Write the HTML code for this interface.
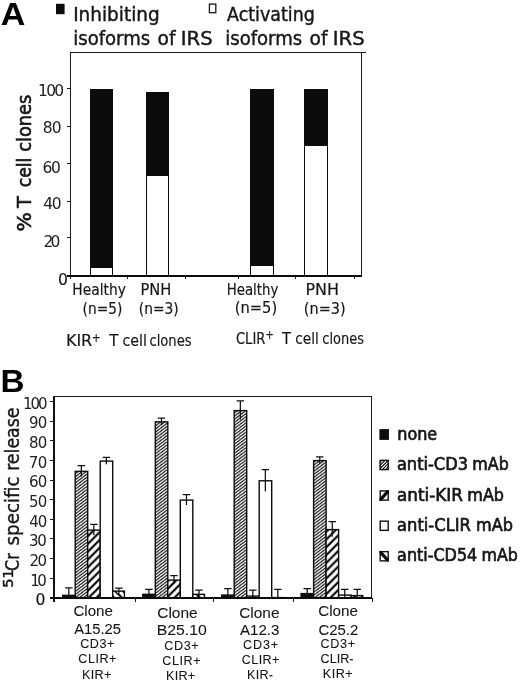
<!DOCTYPE html>
<html lang="en">
<head>
<meta charset="utf-8">
<title>Figure: IRS isoforms and 51Cr specific release</title>
<style>
  html, body { margin: 0; padding: 0; background: #ffffff; }
  body { width: 520px; height: 684px; overflow: hidden; }
  svg { display: block; }
  .t { font-family: "DejaVu Sans Condensed", "DejaVu Sans", "Liberation Sans", sans-serif; fill: #161616; stroke: #161616; stroke-width: 0.15; }
  .d { font-family: "DejaVu Sans", "Liberation Sans", sans-serif; fill: #222; }
  .a { font-family: "Liberation Sans", "DejaVu Sans", sans-serif; fill: #161616; stroke: #161616; stroke-width: 0.08; }
  .hb { font-family: "Liberation Sans", "DejaVu Sans", sans-serif; font-weight: bold; fill: #000; }
  .ln { stroke: #1a1a1a; stroke-width: 1; fill: none; shape-rendering: crispEdges; }
  .eb { stroke: #111; stroke-width: 1.25; fill: none; }
  .hv { stroke: #161616; stroke-width: 0.4; }
  .hv3 { stroke: #161616; stroke-width: 0.62; }
  .hv4 { stroke: #161616; stroke-width: 0.6; }
  .hv2 { stroke: #161616; stroke-width: 0.35; }
</style>
</head>
<body>
<svg width="520" height="684" viewBox="0 0 520 684">
  <defs>
    <pattern id="fine" width="4.13" height="3.1" patternUnits="userSpaceOnUse">
      <rect width="4.13" height="3.1" fill="#fff"/>
      <path d="M-4.13,3.1 L4.13,-3.1 M0,3.1 L4.13,0 M0,6.2 L8.26,0" stroke="#111" stroke-width="1.1"/>
    </pattern>
    <pattern id="coarse" width="7.8" height="7.8" patternUnits="userSpaceOnUse">
      <rect width="7.8" height="7.8" fill="#fff"/>
      <path d="M-7.8,7.8 L7.8,-7.8 M0,7.8 L7.8,0 M0,15.6 L15.6,0" stroke="#000" stroke-width="2.15"/>
    </pattern>
    <pattern id="back" width="7.8" height="7.8" patternUnits="userSpaceOnUse">
      <rect width="7.8" height="7.8" fill="#fff"/>
      <path d="M-7.8,-7.8 L7.8,7.8 M0,0 L7.8,7.8 M0,-7.8 L15.6,7.8" stroke="#000" stroke-width="2.15"/>
    </pattern>
    <pattern id="lfine" width="2.5" height="2.5" patternUnits="userSpaceOnUse">
      <rect width="2.5" height="2.5" fill="#fff"/>
      <path d="M-1,1 L1,-1 M0,2.5 L2.5,0 M1.5,3.5 L3.5,1.5" stroke="#111" stroke-width="0.9"/>
    </pattern>
    <pattern id="lcoarse" width="8" height="8" patternUnits="userSpaceOnUse" patternTransform="translate(380.5 0)">
      <rect width="8" height="8" fill="#fff"/>
      <path d="M-2,2 L2,-2 M0,8 L8,0 M6,10 L10,6" stroke="#000" stroke-width="2.6"/>
    </pattern>
    <pattern id="lback" width="8" height="8" patternUnits="userSpaceOnUse" patternTransform="translate(380.5 0)">
      <rect width="8" height="8" fill="#fff"/>
      <path d="M-2,6 L2,10 M0,0 L8,8 M6,-2 L10,2" stroke="#000" stroke-width="2.6"/>
    </pattern>
  </defs>
  <rect width="520" height="684" fill="#ffffff"/>

<g id="panelA">
<text class="hb" x="0.65" y="24.50" font-size="32" textLength="24.58" lengthAdjust="spacingAndGlyphs">A</text>
<rect x="56" y="3.8" width="8.6" height="10.4" fill="#0c0c0c"/>
<text x="73.16" y="20.50" font-size="20" textLength="86.51" lengthAdjust="spacingAndGlyphs" class="t hv">Inhibiting</text>
<text x="73.30" y="44.50" font-size="20" textLength="76.87" lengthAdjust="spacingAndGlyphs" class="t hv">isoforms</text>
<text x="157.56" y="44.50" font-size="20" textLength="17.96" lengthAdjust="spacingAndGlyphs" class="t hv">of</text>
<text x="180.84" y="44.50" font-size="20" textLength="31.89" lengthAdjust="spacingAndGlyphs" class="t hv">IRS</text>
<text x="225.30" y="44.50" font-size="20" textLength="76.87" lengthAdjust="spacingAndGlyphs" class="t hv">isoforms</text>
<text x="309.56" y="44.50" font-size="20" textLength="17.96" lengthAdjust="spacingAndGlyphs" class="t hv">of</text>
<text x="332.84" y="44.50" font-size="20" textLength="31.89" lengthAdjust="spacingAndGlyphs" class="t hv">IRS</text>
<rect x="209.4" y="4.1" width="6.4" height="8.6" fill="#fff" stroke="#1a1a1a" stroke-width="1.3"/>
<text x="227.10" y="20.50" font-size="20" textLength="87.70" lengthAdjust="spacingAndGlyphs" class="t hv">Activating</text>
<path class="ln" d="M70.5,52 V275 M70,52.5 H366 M361.5,52 V275"/>
<path class="ln" d="M67,88.5 H70 M67,126.5 H70 M67,163.5 H70 M67,201.5 H70 M67,237.5 H70"/>
<g shape-rendering="crispEdges">
<rect x="90" y="89" width="23" height="187" fill="#0c0c0c"/>
<rect x="91" y="268" width="21" height="8" fill="#fff"/>
<rect x="146" y="92" width="23" height="184" fill="#0c0c0c"/>
<rect x="147" y="176" width="21" height="100" fill="#fff"/>
<rect x="250" y="89" width="24" height="187" fill="#0c0c0c"/>
<rect x="251" y="266" width="22" height="10" fill="#fff"/>
<rect x="304" y="89" width="24" height="187" fill="#0c0c0c"/>
<rect x="305" y="146" width="22" height="130" fill="#fff"/>
</g>
<rect x="67" y="275" width="295" height="2" fill="#0c0c0c"/>
<path class="ln" d="M70.5,276 V279 M127.5,276 V279 M185.5,276 V279 M238.5,276 V279 M295.5,276 V279 M354.5,276 V279"/>
<text class="d" x="38.05" y="95.60" font-size="15.5" letter-spacing="-1.771">100</text>
<text class="d" x="42.74" y="132.50" font-size="15.5" letter-spacing="-0.820">80</text>
<text class="d" x="42.41" y="172.90" font-size="15.5" letter-spacing="-1.343">60</text>
<text class="d" x="43.23" y="209.00" font-size="15.5" letter-spacing="-1.302">40</text>
<text class="d" x="43.59" y="246.50" font-size="15.5" letter-spacing="-2.865">20</text>
<text class="t" x="57.96" y="285.25" font-size="15.5" textLength="9.94" lengthAdjust="spacingAndGlyphs">0</text>
<text transform="translate(31.10,231.43) rotate(-90)" font-size="20" textLength="19.36" lengthAdjust="spacingAndGlyphs" class="t hv4">%</text>
<text transform="translate(31.10,207.90) rotate(-90)" font-size="20" textLength="11.78" lengthAdjust="spacingAndGlyphs" class="t hv4">T</text>
<text transform="translate(31.10,187.15) rotate(-90)" font-size="20" textLength="29.44" lengthAdjust="spacingAndGlyphs" class="t hv4">cell</text>
<text transform="translate(31.10,151.79) rotate(-90)" font-size="20" textLength="57.13" lengthAdjust="spacingAndGlyphs" class="t hv4">clones</text>
<text class="t" x="72.37" y="294.50" font-size="15.3" textLength="53.55" lengthAdjust="spacingAndGlyphs">Healthy</text>
<text class="t" x="82.60" y="313.75" font-size="15.3" textLength="39.78" lengthAdjust="spacingAndGlyphs">(n=5)</text>
<text class="t" x="140.53" y="294.50" font-size="15.3" textLength="30.89" lengthAdjust="spacingAndGlyphs">PNH</text>
<text class="t" x="138.85" y="313.75" font-size="15.3" textLength="39.78" lengthAdjust="spacingAndGlyphs">(n=3)</text>
<text class="t" x="226.66" y="294.50" font-size="15.3" textLength="51.74" lengthAdjust="spacingAndGlyphs">Healthy</text>
<text class="t" x="234.78" y="313.25" font-size="15.3" textLength="42.43" lengthAdjust="spacingAndGlyphs">(n=5)</text>
<text class="t" x="305.40" y="294.50" font-size="15.3" textLength="33.65" lengthAdjust="spacingAndGlyphs">PNH</text>
<text class="t" x="303.79" y="313.75" font-size="15.3" textLength="41.90" lengthAdjust="spacingAndGlyphs">(n=3)</text>
<text class="t" x="65.90" y="346.25" font-size="15.3" textLength="26.35" lengthAdjust="spacingAndGlyphs">KIR</text>
<text class="t" x="91.67" y="341.50" font-size="12" textLength="8.94" lengthAdjust="spacingAndGlyphs">+</text>
<text class="t" x="109.30" y="346.25" font-size="15.3" textLength="9.11" lengthAdjust="spacingAndGlyphs">T</text>
<text class="t" x="122.51" y="346.25" font-size="15.3" textLength="24.40" lengthAdjust="spacingAndGlyphs">cell</text>
<text class="t" x="149.47" y="346.25" font-size="15.3" textLength="42.15" lengthAdjust="spacingAndGlyphs">clones</text>
<text class="t" x="235.97" y="343.50" font-size="15.3" textLength="29.39" lengthAdjust="spacingAndGlyphs">CLIR</text>
<text class="t" x="265.56" y="339.00" font-size="12" textLength="8.27" lengthAdjust="spacingAndGlyphs">+</text>
<text class="t" x="282.00" y="343.50" font-size="15.3" textLength="8.91" lengthAdjust="spacingAndGlyphs">T</text>
<text class="t" x="295.24" y="343.50" font-size="15.3" textLength="23.53" lengthAdjust="spacingAndGlyphs">cell</text>
<text class="t" x="322.28" y="343.50" font-size="15.3" textLength="41.64" lengthAdjust="spacingAndGlyphs">clones</text>
</g>
<g id="panelB">
<text class="hb" x="0.64" y="392.30" font-size="31.5" textLength="24.03" lengthAdjust="spacingAndGlyphs">B</text>
<path class="ln" d="M54,396.5 H372 M371.5,396 V598"/>
<rect x="53" y="396" width="2" height="206" fill="#111"/>
<path class="ln" d="M50,597.5 H54 M50,578.5 H54 M50,558.5 H54 M50,538.5 H54 M50,519.5 H54 M50,499.5 H54 M50,480.5 H54 M50,460.5 H54 M50,440.5 H54 M50,421.5 H54 M50,401.5 H54 "/>
<rect x="62.70" y="595.35" width="12.50" height="2.65" fill="#0c0c0c" stroke="#0c0c0c" stroke-width="1.4"/>
<path class="eb" d="M65.15,587.75 H72.55 M68.85,587.75 V597.00"/>
<rect x="75.20" y="471.35" width="12.50" height="126.65" fill="url(#fine)" stroke="#0c0c0c" stroke-width="1.4"/>
<path class="eb" d="M77.65,465.50 H85.05 M81.35,465.50 V476.50"/>
<rect x="87.70" y="530.10" width="12.50" height="67.90" fill="url(#coarse)" stroke="#0c0c0c" stroke-width="1.4"/>
<path class="eb" d="M90.15,524.25 H97.55 M93.85,524.25 V535.25"/>
<rect x="100.20" y="461.10" width="12.50" height="136.90" fill="#fff" stroke="#0c0c0c" stroke-width="1.4"/>
<path class="eb" d="M102.65,457.25 H110.05 M106.35,457.25 V464.25"/>
<rect x="112.70" y="591.10" width="11.70" height="6.90" fill="url(#back)" stroke="#0c0c0c" stroke-width="1.4"/>
<path class="eb" d="M115.15,588.00 H122.55 M118.85,588.00 V593.50"/>
<rect x="142.80" y="594.35" width="12.50" height="3.65" fill="#0c0c0c" stroke="#0c0c0c" stroke-width="1.4"/>
<path class="eb" d="M145.25,589.25 H152.65 M148.95,589.25 V597.00"/>
<rect x="155.30" y="421.85" width="12.50" height="176.15" fill="url(#fine)" stroke="#0c0c0c" stroke-width="1.4"/>
<path class="eb" d="M157.75,418.00 H165.15 M161.45,418.00 V425.00"/>
<rect x="167.80" y="580.10" width="12.50" height="17.90" fill="url(#coarse)" stroke="#0c0c0c" stroke-width="1.4"/>
<path class="eb" d="M170.25,575.50 H177.65 M173.95,575.50 V584.00"/>
<rect x="180.30" y="500.10" width="12.50" height="97.90" fill="#fff" stroke="#0c0c0c" stroke-width="1.4"/>
<path class="eb" d="M182.75,494.50 H190.15 M186.45,494.50 V505.00"/>
<rect x="192.80" y="594.35" width="11.70" height="3.65" fill="url(#back)" stroke="#0c0c0c" stroke-width="1.4"/>
<path class="eb" d="M195.25,590.00 H202.65 M198.95,590.00 V597.00"/>
<rect x="221.70" y="595.10" width="12.50" height="2.90" fill="#0c0c0c" stroke="#0c0c0c" stroke-width="1.4"/>
<path class="eb" d="M224.15,588.50 H231.55 M227.85,588.50 V597.00"/>
<rect x="234.20" y="410.60" width="12.50" height="187.40" fill="url(#fine)" stroke="#0c0c0c" stroke-width="1.4"/>
<path class="eb" d="M236.65,400.90 H244.05 M240.35,400.90 V419.60"/>
<rect x="246.70" y="596.10" width="12.50" height="1.90" fill="url(#coarse)" stroke="#0c0c0c" stroke-width="1.4"/>
<path class="eb" d="M249.15,590.00 H256.55 M252.85,590.00 V597.00"/>
<rect x="259.20" y="480.80" width="12.50" height="117.20" fill="#fff" stroke="#0c0c0c" stroke-width="1.4"/>
<path class="eb" d="M261.65,469.60 H269.05 M265.35,469.60 V491.30"/>
<rect x="271.70" y="597.60" width="11.70" height="0.40" fill="url(#back)" stroke="#0c0c0c" stroke-width="1.4"/>
<path class="eb" d="M274.15,589.25 H281.55 M277.85,589.25 V597.00"/>
<rect x="301.10" y="593.60" width="12.50" height="4.40" fill="#0c0c0c" stroke="#0c0c0c" stroke-width="1.4"/>
<path class="eb" d="M303.55,588.50 H310.95 M307.25,588.50 V597.00"/>
<rect x="313.60" y="460.60" width="12.50" height="137.40" fill="url(#fine)" stroke="#0c0c0c" stroke-width="1.4"/>
<path class="eb" d="M316.05,456.75 H323.45 M319.75,456.75 V463.75"/>
<rect x="326.10" y="529.60" width="12.50" height="68.40" fill="url(#coarse)" stroke="#0c0c0c" stroke-width="1.4"/>
<path class="eb" d="M328.55,521.70 H335.95 M332.25,521.70 V536.80"/>
<rect x="338.60" y="595.10" width="12.50" height="2.90" fill="#fff" stroke="#0c0c0c" stroke-width="1.4"/>
<path class="eb" d="M341.05,589.25 H348.45 M344.75,589.25 V597.00"/>
<rect x="351.10" y="595.60" width="11.70" height="2.40" fill="url(#back)" stroke="#0c0c0c" stroke-width="1.4"/>
<path class="eb" d="M353.55,589.25 H360.95 M357.25,589.25 V597.00"/>
<rect x="50" y="597" width="322" height="2" fill="#0c0c0c"/>
<path class="ln" d="M135.5,598 V602 M213.5,598 V602 M293.5,598 V602 M372.5,598 V602"/>
<text class="d" x="22.95" y="408.70" font-size="15" letter-spacing="-1.963">100</text>
<text class="d" x="29.02" y="428.35" font-size="15" letter-spacing="-0.900">90</text>
<text class="d" x="29.02" y="448.00" font-size="15" letter-spacing="-0.900">80</text>
<text class="d" x="28.80" y="467.65" font-size="15" letter-spacing="-0.675">70</text>
<text class="d" x="28.95" y="487.30" font-size="15" letter-spacing="-0.825">60</text>
<text class="d" x="28.88" y="506.95" font-size="15" letter-spacing="-0.750">50</text>
<text class="d" x="29.25" y="526.60" font-size="15" letter-spacing="-1.125">40</text>
<text class="d" x="29.07" y="546.25" font-size="15" letter-spacing="-1.350">30</text>
<text class="d" x="29.38" y="565.90" font-size="15" letter-spacing="-1.450">20</text>
<text class="d" x="30.15" y="585.55" font-size="15" letter-spacing="-2.425">10</text>
<text class="t" x="35.46" y="605.20" font-size="15" textLength="9.94" lengthAdjust="spacingAndGlyphs">0</text>
<text transform="translate(13.00,587.73) rotate(-90)" font-size="13.5" textLength="18.50" lengthAdjust="spacingAndGlyphs" class="t hv">51</text>
<text transform="translate(18.80,570.89) rotate(-90)" font-size="20" textLength="17.86" lengthAdjust="spacingAndGlyphs" class="t hv2">Cr</text>
<text transform="translate(18.80,545.42) rotate(-90)" font-size="20" textLength="69.03" lengthAdjust="spacingAndGlyphs" class="t hv2">specific</text>
<text transform="translate(18.80,470.84) rotate(-90)" font-size="20" textLength="63.29" lengthAdjust="spacingAndGlyphs" class="t hv2">release</text>
<text class="a" x="73.40" y="616.40" font-size="15" textLength="39.43" lengthAdjust="spacingAndGlyphs">Clone</text>
<text class="a" x="74.15" y="633.90" font-size="15" textLength="46.88" lengthAdjust="spacingAndGlyphs">A15.25</text>
<text class="a" x="80.27" y="647.80" font-size="12.6" letter-spacing="0.496">CD3+</text>
<text class="a" x="78.27" y="663.25" font-size="12.6" letter-spacing="0.540">CLIR+</text>
<text class="a" x="81.89" y="678.70" font-size="12.6" letter-spacing="0.379">KIR+</text>
<text class="a" x="157.22" y="617.50" font-size="15" textLength="40.52" lengthAdjust="spacingAndGlyphs">Clone</text>
<text class="a" x="156.74" y="635.00" font-size="15" textLength="50.06" lengthAdjust="spacingAndGlyphs">B25.10</text>
<text class="a" x="164.37" y="649.50" font-size="12.6" letter-spacing="0.563">CD3+</text>
<text class="a" x="162.37" y="665.00" font-size="12.6" letter-spacing="0.540">CLIR+</text>
<text class="a" x="165.99" y="680.00" font-size="12.6" letter-spacing="0.263">KIR+</text>
<text class="a" x="239.23" y="617.50" font-size="15" textLength="40.26" lengthAdjust="spacingAndGlyphs">Clone</text>
<text class="a" x="240.00" y="635.00" font-size="15" textLength="39.40" lengthAdjust="spacingAndGlyphs">A12.3</text>
<text class="a" x="243.12" y="648.75" font-size="12.6" letter-spacing="0.813">CD3+</text>
<text class="a" x="241.87" y="663.75" font-size="12.6" letter-spacing="0.353">CLIR+</text>
<text class="a" x="246.99" y="678.75" font-size="12.6" letter-spacing="0.292">KIR-</text>
<text class="a" x="318.24" y="616.40" font-size="15" textLength="39.69" lengthAdjust="spacingAndGlyphs">Clone</text>
<text class="a" x="318.50" y="634.50" font-size="15" textLength="39.79" lengthAdjust="spacingAndGlyphs">C25.2</text>
<text class="a" x="320.62" y="648.00" font-size="12.6" letter-spacing="0.646">CD3+</text>
<text class="a" x="320.62" y="663.00" font-size="12.6" letter-spacing="-0.000">CLIR-</text>
<text class="a" x="322.74" y="678.25" font-size="12.6" letter-spacing="0.513">KIR+</text>
<clipPath id="lc"><rect x="0" y="0" width="9.4" height="10.6"/></clipPath>
<g transform="translate(379.50,429.20)"><rect x="0" y="0" width="9.4" height="10.6" fill="#fff"/><g clip-path="url(#lc)"><rect x="0" y="0" width="9.4" height="10.6" fill="#0c0c0c"/></g><rect x="0.7" y="0.7" width="8" height="9.2" fill="none" stroke="#111" stroke-width="1.4"/></g>
<text x="397.28" y="439.50" font-size="17" textLength="39.91" lengthAdjust="spacingAndGlyphs" class="t hv3">none</text>
<g transform="translate(379.50,459.70)"><rect x="0" y="0" width="9.4" height="10.6" fill="#fff"/><g clip-path="url(#lc)"><path d="M-1,4 L4,-1 M-1,7.2 L7.2,-1 M-1,10.4 L10.4,-1 M2,10.6 L10,2.6 M5.2,10.6 L10,5.8" stroke="#111" stroke-width="1.1"/></g><rect x="0.7" y="0.7" width="8" height="9.2" fill="none" stroke="#111" stroke-width="1.4"/></g>
<text x="396.91" y="470.00" font-size="17" textLength="71.10" lengthAdjust="spacingAndGlyphs" class="t hv3">anti-CD3</text>
<text x="472.34" y="470.00" font-size="17" textLength="36.40" lengthAdjust="spacingAndGlyphs" class="t hv3">mAb</text>
<g transform="translate(379.50,490.20)"><rect x="0" y="0" width="9.4" height="10.6" fill="#fff"/><g clip-path="url(#lc)"><path d="M-1,11.6 L10.4,-1" stroke="#000" stroke-width="3.2"/><path d="M0,10.6 L2.5,10.6 L0,8 Z" fill="#000"/></g><rect x="0.7" y="0.7" width="8" height="9.2" fill="none" stroke="#111" stroke-width="1.4"/></g>
<text x="397.07" y="500.50" font-size="17" textLength="65.87" lengthAdjust="spacingAndGlyphs" class="t hv3">anti-KIR</text>
<text x="467.33" y="500.50" font-size="17" textLength="36.61" lengthAdjust="spacingAndGlyphs" class="t hv3">mAb</text>
<g transform="translate(379.50,520.45)"><rect x="0" y="0" width="9.4" height="10.6" fill="#fff"/><g clip-path="url(#lc)"></g><rect x="0.7" y="0.7" width="8" height="9.2" fill="none" stroke="#111" stroke-width="1.4"/></g>
<text x="397.10" y="530.75" font-size="17" textLength="73.82" lengthAdjust="spacingAndGlyphs" class="t hv3">anti-CLIR</text>
<text x="476.07" y="530.75" font-size="17" textLength="36.88" lengthAdjust="spacingAndGlyphs" class="t hv3">mAb</text>
<g transform="translate(379.50,550.95)"><rect x="0" y="0" width="9.4" height="10.6" fill="#fff"/><g clip-path="url(#lc)"><path d="M-1,-1 L10.4,11.6" stroke="#000" stroke-width="3.2"/><path d="M0,0 L2.5,0 L0,2.5 Z" fill="#000"/></g><rect x="0.7" y="0.7" width="8" height="9.2" fill="none" stroke="#111" stroke-width="1.4"/></g>
<text x="397.12" y="561.25" font-size="17" textLength="80.10" lengthAdjust="spacingAndGlyphs" class="t hv3">anti-CD54</text>
<text x="481.59" y="561.25" font-size="17" textLength="36.34" lengthAdjust="spacingAndGlyphs" class="t hv3">mAb</text>
</g>
</svg>
</body>
</html>
